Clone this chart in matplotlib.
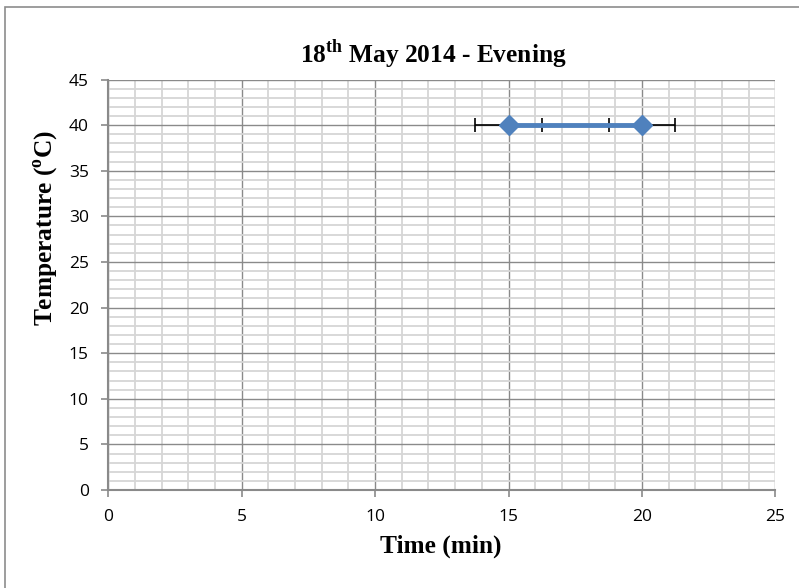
import matplotlib.pyplot as plt
from matplotlib.patches import Rectangle
from matplotlib.ticker import MultipleLocator

plt.rcParams['font.family'] = 'Open Sans'
plt.rcParams['mathtext.fontset'] = 'custom'
plt.rcParams['mathtext.rm'] = 'Liberation Serif:bold'
plt.rcParams['mathtext.bf'] = 'Liberation Serif:bold'

# readings
time_min = [15, 20]
temp_c = [40, 40]
time_err = [1.25, 1.25]

fig = plt.figure(figsize=(7.99, 5.88), dpi=100)
ax = fig.add_axes([108.3 / 799, 1 - 490 / 588, (775.3 - 108.3) / 799, (490 - 79.5) / 588])

# chart border
fig.patches.append(Rectangle((5 / 799, -0.1), 1.2, 1 - 7.5 / 588 + 0.1,
                             transform=fig.transFigure, fill=False,
                             edgecolor='#8c8c8c', linewidth=1.2))

ax.set_xlim(0, 25)
ax.set_ylim(0, 45)
ax.xaxis.set_major_locator(MultipleLocator(5))
ax.xaxis.set_minor_locator(MultipleLocator(1))
ax.yaxis.set_major_locator(MultipleLocator(5))
ax.yaxis.set_minor_locator(MultipleLocator(1))

ax.grid(which='minor', color='#d6d6d6', linewidth=1.3)
ax.grid(which='major', color='#8a8a8a', linewidth=1.0)
ax.set_axisbelow(True)

for side in ['top', 'right']:
    ax.spines[side].set_visible(False)
for side in ['left', 'bottom']:
    ax.spines[side].set_color('#8a8a8a')
    ax.spines[side].set_linewidth(1.5)

ax.tick_params(which='major', direction='out', length=5, width=1.2,
               color='#8a8a8a', labelsize=12.5, labelcolor='black')
ax.tick_params(which='minor', length=0)
ax.tick_params(axis='y', pad=9)
ax.tick_params(axis='x', pad=9)

ax.errorbar(time_min, temp_c, xerr=time_err, fmt='none', ecolor='black',
            elinewidth=1.2, capsize=5, capthick=1.2, zorder=3)
ax.plot(time_min, temp_c, color='#4f81bd', linewidth=3.5, marker='D',
        markersize=10, markerfacecolor='#4f81bd', markeredgecolor='#4f81bd',
        zorder=4, clip_on=False)

fig.text(433 / 799, 1 - 55 / 588, r'18$^{\mathrm{th}}$ May 2014 - Evening',
         ha='center', va='center', family='Liberation Serif',
         fontweight='bold', fontsize=18.3)
fig.text(441 / 799, 1 - 546 / 588, 'Time (min)', ha='center', va='center',
         family='Liberation Serif', fontweight='bold', fontsize=18.3)
fig.text(47 / 799, 1 - 228 / 588, r'Temperature ($^{\mathrm{o}}$C)', ha='center',
         va='center', rotation=90, family='Liberation Serif',
         fontweight='bold', fontsize=18.3)

fig.savefig('out.png', dpi=100)
